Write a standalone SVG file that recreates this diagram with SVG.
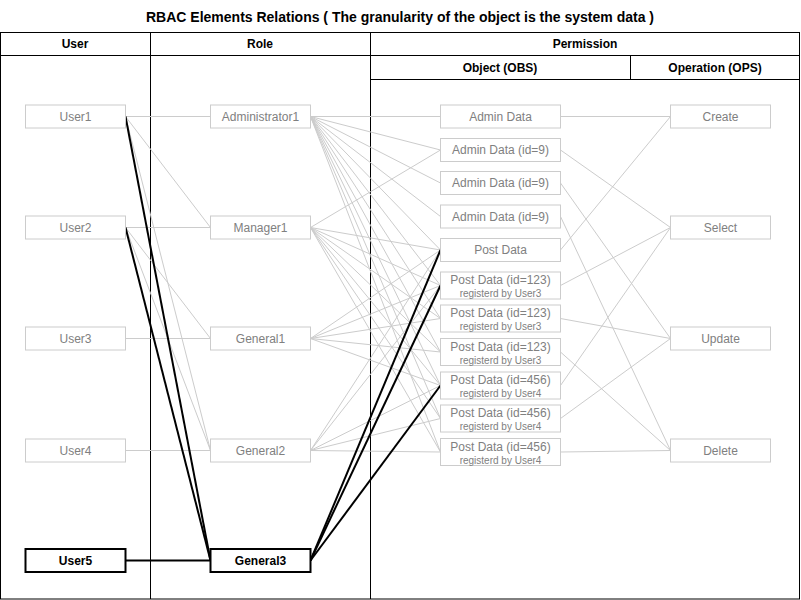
<svg xmlns="http://www.w3.org/2000/svg" width="801" height="600" viewBox="0 0 801 600">
<style>
text { font-family: "Liberation Sans", Arial, Helvetica, sans-serif; }
.title { font-size: 14px; font-weight: bold; fill: #000; text-anchor: middle; }
.hdr { font-size: 12px; font-weight: bold; fill: #000; text-anchor: middle; }
.grid { stroke: #000; stroke-width: 1; fill: none; }
.node rect { fill: #fff; stroke: #cccccc; stroke-width: 1; }
.node text { font-size: 12px; fill: #808080; text-anchor: middle; }
.node text.sub { font-size: 10px; }
.node.hl rect { stroke: #000; stroke-width: 2; }
.node.hl text { fill: #000; font-weight: bold; }
.c line { stroke: #cccccc; stroke-width: 1; fill: none; }
.c line.b { stroke: #000; stroke-width: 2; }
</style>

<g id="title">
<text class="title" x="400" y="22">RBAC Elements Relations ( The granularity of the object is the system data )</text>
</g>

<g id="table" class="grid">
<rect x="0.5" y="32.5" width="799" height="566.5"/>
<line x1="0.5" y1="55.5" x2="799.5" y2="55.5"/>
<line x1="370.5" y1="79.5" x2="799.5" y2="79.5"/>
<line x1="150.5" y1="32.5" x2="150.5" y2="599"/>
<line x1="370.5" y1="32.5" x2="370.5" y2="599"/>
<line x1="630.5" y1="55.5" x2="630.5" y2="79.5"/>
</g>
<g id="headers">
<text class="hdr" x="75" y="48">User</text>
<text class="hdr" x="260" y="48">Role</text>
<text class="hdr" x="585" y="48">Permission</text>
<text class="hdr" x="500" y="72">Object (OBS)</text>
<text class="hdr" x="715" y="72">Operation (OPS)</text>
</g>

<g id="connectors" class="c">
<!-- user to role -->
<line x1="125.5" y1="116.5" x2="210.5" y2="116.5"/>
<line x1="125.5" y1="116.5" x2="210.5" y2="227.5"/>
<line x1="125.5" y1="116.5" x2="210.5" y2="450.5"/>
<line x1="125.5" y1="227.5" x2="210.5" y2="227.5"/>
<line x1="125.5" y1="227.5" x2="210.5" y2="338.5"/>
<line x1="125.5" y1="227.5" x2="210.5" y2="450.5"/>
<line x1="125.5" y1="338.5" x2="210.5" y2="338.5"/>
<line x1="125.5" y1="450.5" x2="210.5" y2="450.5"/>
<!-- Administrator1 to objects -->
<line x1="310.5" y1="116.5" x2="440.5" y2="116.5"/>
<line x1="310.5" y1="116.5" x2="440.5" y2="150"/>
<line x1="310.5" y1="116.5" x2="440.5" y2="183"/>
<line x1="310.5" y1="116.5" x2="440.5" y2="216.5"/>
<line x1="310.5" y1="116.5" x2="440.5" y2="250"/>
<line x1="310.5" y1="116.5" x2="440.5" y2="285.5"/>
<line x1="310.5" y1="116.5" x2="440.5" y2="318.5"/>
<line x1="310.5" y1="116.5" x2="440.5" y2="352"/>
<line x1="310.5" y1="116.5" x2="440.5" y2="385.5"/>
<line x1="310.5" y1="116.5" x2="440.5" y2="418.5"/>
<line x1="310.5" y1="116.5" x2="440.5" y2="452"/>
<!-- Manager1 to objects -->
<line x1="310.5" y1="227.5" x2="440.5" y2="150"/>
<line x1="310.5" y1="227.5" x2="440.5" y2="250"/>
<line x1="310.5" y1="227.5" x2="440.5" y2="285.5"/>
<line x1="310.5" y1="227.5" x2="440.5" y2="318.5"/>
<line x1="310.5" y1="227.5" x2="440.5" y2="352"/>
<line x1="310.5" y1="227.5" x2="440.5" y2="385.5"/>
<line x1="310.5" y1="227.5" x2="440.5" y2="418.5"/>
<line x1="310.5" y1="227.5" x2="440.5" y2="452"/>
<!-- General1 to objects -->
<line x1="310.5" y1="338.5" x2="440.5" y2="250"/>
<line x1="310.5" y1="338.5" x2="440.5" y2="285.5"/>
<line x1="310.5" y1="338.5" x2="440.5" y2="318.5"/>
<line x1="310.5" y1="338.5" x2="440.5" y2="352"/>
<line x1="310.5" y1="338.5" x2="440.5" y2="385.5"/>
<!-- General2 to objects -->
<line x1="310.5" y1="450.5" x2="440.5" y2="250"/>
<line x1="310.5" y1="450.5" x2="440.5" y2="285.5"/>
<line x1="310.5" y1="450.5" x2="440.5" y2="385.5"/>
<line x1="310.5" y1="450.5" x2="440.5" y2="418.5"/>
<line x1="310.5" y1="450.5" x2="440.5" y2="452"/>
<!-- objects to operations -->
<line x1="560.5" y1="116.5" x2="670.5" y2="116.5"/>
<line x1="560.5" y1="150" x2="670.5" y2="227.5"/>
<line x1="560.5" y1="183" x2="670.5" y2="338.5"/>
<line x1="560.5" y1="216.5" x2="670.5" y2="450.5"/>
<line x1="560.5" y1="250" x2="670.5" y2="116.5"/>
<line x1="560.5" y1="285.5" x2="670.5" y2="227.5"/>
<line x1="560.5" y1="318.5" x2="670.5" y2="338.5"/>
<line x1="560.5" y1="352" x2="670.5" y2="450.5"/>
<line x1="560.5" y1="385.5" x2="670.5" y2="227.5"/>
<line x1="560.5" y1="418.5" x2="670.5" y2="338.5"/>
<line x1="560.5" y1="452" x2="670.5" y2="450.5"/>
<!-- highlighted path -->
<line class="b" x1="125.5" y1="116.5" x2="210.5" y2="560.5"/>
<line class="b" x1="125.5" y1="227.5" x2="210.5" y2="560.5"/>
<line class="b" x1="125.5" y1="560.5" x2="210.5" y2="560.5"/>
<line class="b" x1="310.5" y1="560.5" x2="440.5" y2="250"/>
<line class="b" x1="310.5" y1="560.5" x2="440.5" y2="285.5"/>
<line class="b" x1="310.5" y1="560.5" x2="440.5" y2="385.5"/>
</g>

<g id="user1" class="node"><rect x="25.5" y="105" width="100" height="23"/><text x="75.5" y="120.5">User1</text></g>
<g id="user2" class="node"><rect x="25.5" y="216" width="100" height="23"/><text x="75.5" y="231.5">User2</text></g>
<g id="user3" class="node"><rect x="25.5" y="327" width="100" height="23"/><text x="75.5" y="342.5">User3</text></g>
<g id="user4" class="node"><rect x="25.5" y="439" width="100" height="23"/><text x="75.5" y="454.5">User4</text></g>
<g id="user5" class="node hl"><rect x="25.5" y="549" width="100" height="23"/><text x="75.5" y="564.5">User5</text></g>

<g id="administrator1" class="node"><rect x="210.5" y="105" width="100" height="23"/><text x="260.5" y="120.5">Administrator1</text></g>
<g id="manager1" class="node"><rect x="210.5" y="216" width="100" height="23"/><text x="260.5" y="231.5">Manager1</text></g>
<g id="general1" class="node"><rect x="210.5" y="327" width="100" height="23"/><text x="260.5" y="342.5">General1</text></g>
<g id="general2" class="node"><rect x="210.5" y="439" width="100" height="23"/><text x="260.5" y="454.5">General2</text></g>
<g id="general3" class="node hl"><rect x="210.5" y="549" width="100" height="23"/><text x="260.5" y="564.5">General3</text></g>

<g id="obj-admin" class="node"><rect x="440.5" y="105" width="120" height="23"/><text x="500.5" y="120.5">Admin Data</text></g>
<g id="obj-admin9-a" class="node"><rect x="440.5" y="138.5" width="120" height="23"/><text x="500.5" y="154">Admin Data (id=9)</text></g>
<g id="obj-admin9-b" class="node"><rect x="440.5" y="171.5" width="120" height="23"/><text x="500.5" y="187">Admin Data (id=9)</text></g>
<g id="obj-admin9-c" class="node"><rect x="440.5" y="205" width="120" height="23"/><text x="500.5" y="220.5">Admin Data (id=9)</text></g>
<g id="obj-post" class="node"><rect x="440.5" y="238.5" width="120" height="23"/><text x="500.5" y="254">Post Data</text></g>
<g id="obj-post123-a" class="node"><rect x="440.5" y="272" width="120" height="27"/><text x="500.5" y="284">Post Data (id=123)</text><text class="sub" x="500.5" y="297">registerd by User3</text></g>
<g id="obj-post123-b" class="node"><rect x="440.5" y="305" width="120" height="27"/><text x="500.5" y="317">Post Data (id=123)</text><text class="sub" x="500.5" y="330">registerd by User3</text></g>
<g id="obj-post123-c" class="node"><rect x="440.5" y="338.5" width="120" height="27"/><text x="500.5" y="350.5">Post Data (id=123)</text><text class="sub" x="500.5" y="363.5">registerd by User3</text></g>
<g id="obj-post456-a" class="node"><rect x="440.5" y="372" width="120" height="27"/><text x="500.5" y="384">Post Data (id=456)</text><text class="sub" x="500.5" y="397">registerd by User4</text></g>
<g id="obj-post456-b" class="node"><rect x="440.5" y="405" width="120" height="27"/><text x="500.5" y="417">Post Data (id=456)</text><text class="sub" x="500.5" y="430">registerd by User4</text></g>
<g id="obj-post456-c" class="node"><rect x="440.5" y="438.5" width="120" height="27"/><text x="500.5" y="450.5">Post Data (id=456)</text><text class="sub" x="500.5" y="463.5">registerd by User4</text></g>

<g id="op-create" class="node"><rect x="670.5" y="105" width="100" height="23"/><text x="720.5" y="120.5">Create</text></g>
<g id="op-select" class="node"><rect x="670.5" y="216" width="100" height="23"/><text x="720.5" y="231.5">Select</text></g>
<g id="op-update" class="node"><rect x="670.5" y="327" width="100" height="23"/><text x="720.5" y="342.5">Update</text></g>
<g id="op-delete" class="node"><rect x="670.5" y="439" width="100" height="23"/><text x="720.5" y="454.5">Delete</text></g>
</svg>
